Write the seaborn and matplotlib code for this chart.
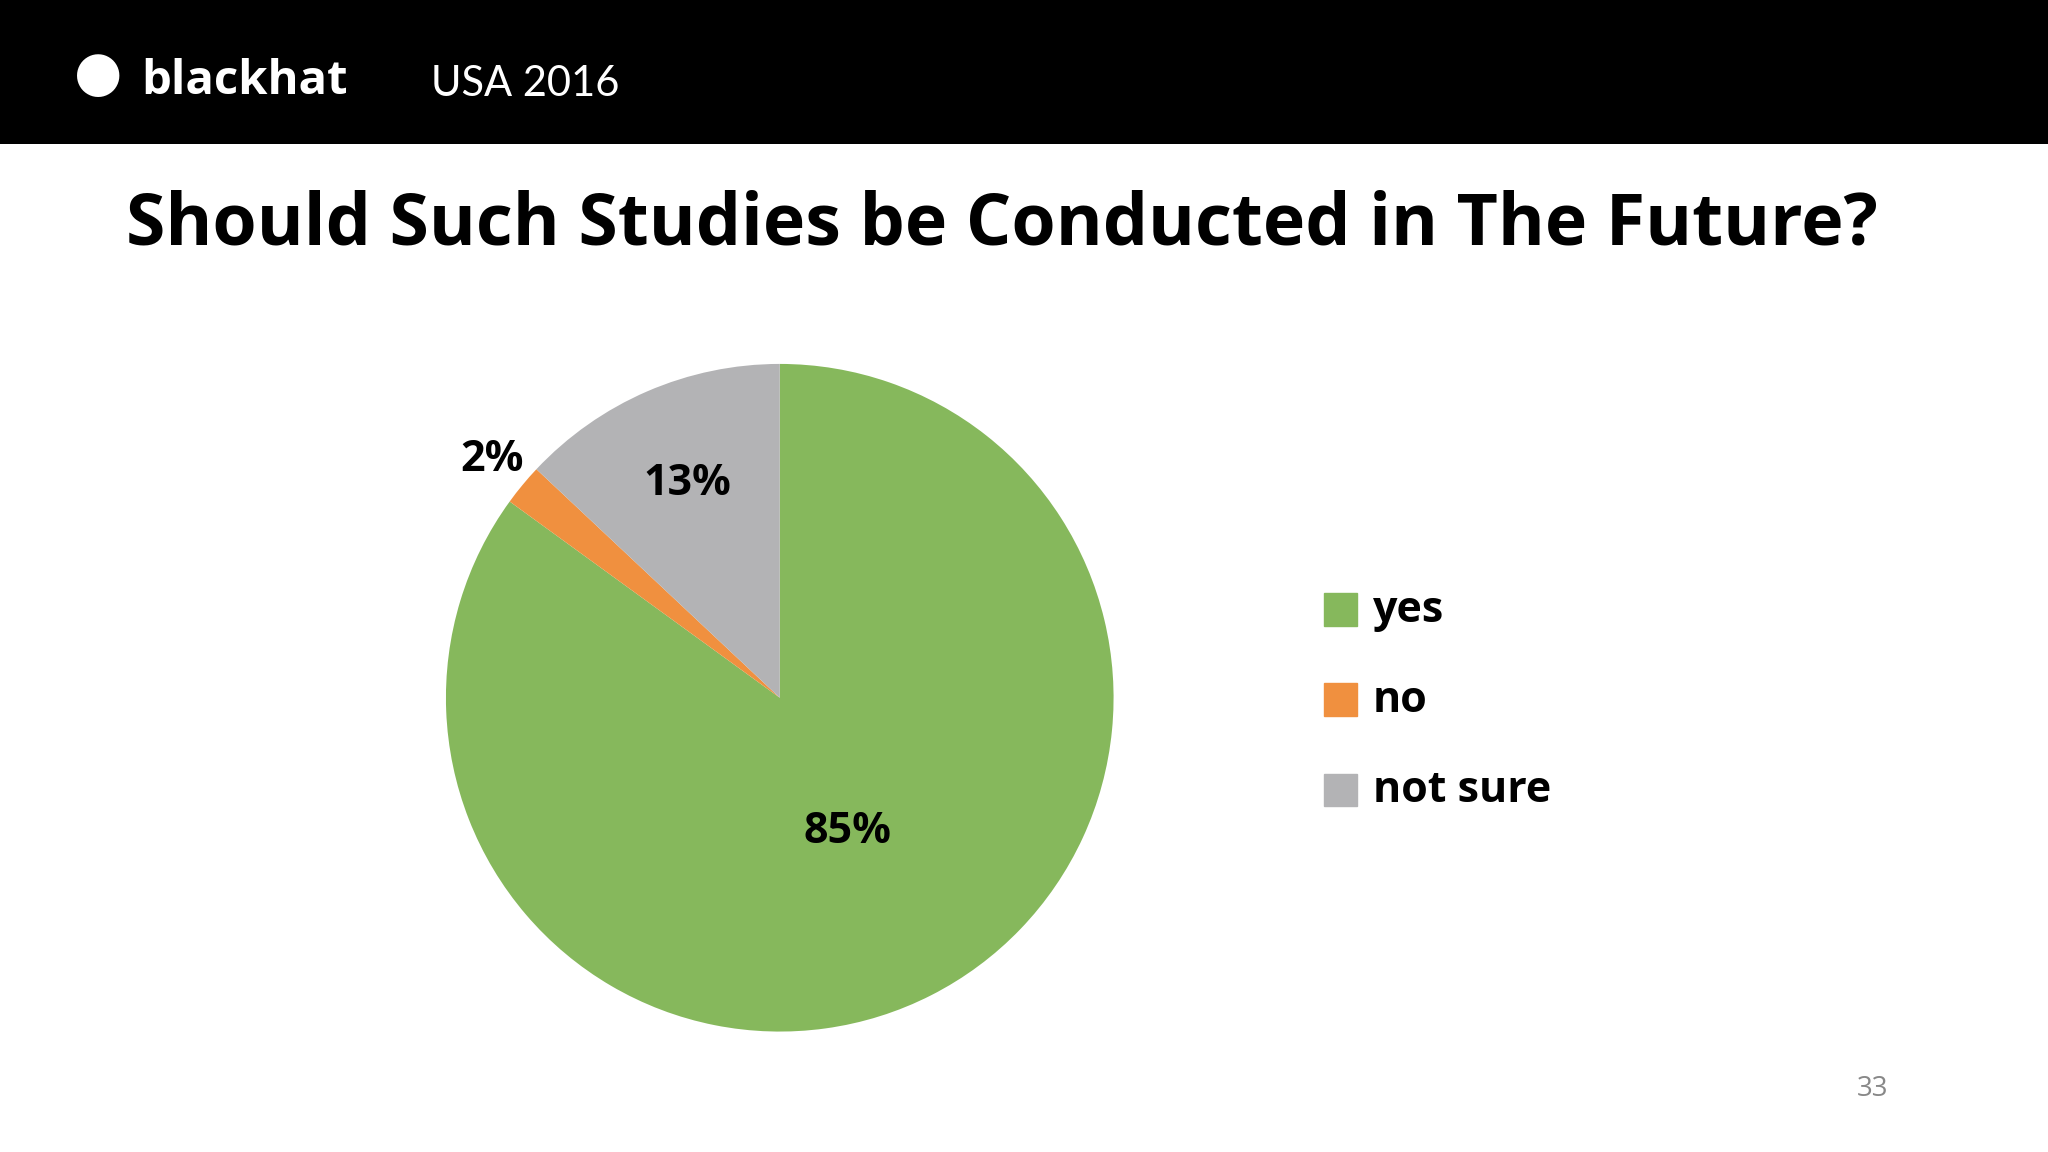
import matplotlib
matplotlib.use("Agg")
import matplotlib.pyplot as plt
import seaborn as sns
import numpy as np

categories = ["yes", "no", "not sure"]
values = [85, 2, 13]
labels = ["85%", "2%", "13%"]
colors = ["#86b85c", "#f0903f", "#b3b3b5"]
label_radius = [0.45, 1.12, 0.70]

sns.set_theme(style="white")
plt.rcParams['font.family'] = ['Open Sans', 'DejaVu Sans']
plt.rcParams['text.color'] = 'black'

fig = plt.figure(figsize=(20.48, 11.52), dpi=100)
fig.patch.set_facecolor("white")

# header band
hdr = fig.add_axes([0, 1 - 110/880, 1, 110/880])
hdr.set_facecolor("black"); hdr.set_xticks([]); hdr.set_yticks([])
for s in hdr.spines.values(): s.set_visible(False)
hdr.set_xlim(0, 1); hdr.set_ylim(0, 1)
fig.text(108/1568, 1 - 62/880, "blackhat", color="white", fontsize=34, fontweight="bold", va="center")
fig.text(330/1568, 1 - 64/880, "USA 2016", color="white", fontsize=30, va="center", family=["Lato", "DejaVu Sans"])
fig.text(75/1568, 1 - 58/880, "●", color="white", fontsize=40, va="center", ha="center")

fig.text(767/1568, 1 - 172/880, "Should Such Studies be Conducted in The Future?",
         ha="center", va="center", fontsize=51.5, fontweight="bold", color="black")
fig.text(1434/1568, 1 - 832/880, "33", ha="center", va="center", fontsize=20, color="#888888")

h = 2*255/880
w = h*1152/2048
ax = fig.add_axes([597/1568 - w/2, 1 - 533/880 - h/2, w, h])
wedges, _ = ax.pie(values, colors=colors, startangle=90, counterclock=False,
                   wedgeprops=dict(linewidth=0))
ax.set_aspect("equal")
ax.set_xlim(-1, 1); ax.set_ylim(-1, 1)
for wdg, lab, r in zip(wedges, labels, label_radius):
    ang = np.deg2rad((wdg.theta1 + wdg.theta2) / 2)
    ax.text(r*np.cos(ang), r*np.sin(ang), lab, ha="center", va="center",
            fontsize=31, fontweight="bold", color="black", clip_on=False)

for i, (c, col) in enumerate(zip(categories, colors)):
    y = 1 - (466 + 69*i)/880
    fig.patches.append(plt.Rectangle((1014/1568, y - 12/880), 25/1568, 25/880,
                                     transform=fig.transFigure, color=col))
    fig.text(1051/1568, y, c, va="center", ha="left", fontsize=31, fontweight="bold", color="black")

fig.savefig("out.png", dpi=100)
